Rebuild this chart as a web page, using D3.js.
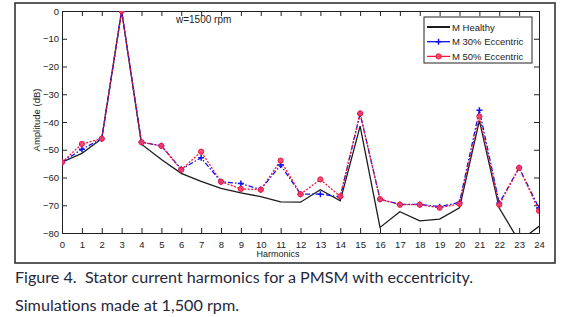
<!DOCTYPE html>
<html>
<head>
<meta charset="utf-8">
<script src="https://cdn.jsdelivr.net/npm/d3@7"></script>
<style>
  body { margin: 0; background: #fff; }
  svg { display: block; }
  .tick text { font-family: "Liberation Sans Narrow", "Liberation Sans", Arial, sans-serif; font-size: 9.5px; fill: #222; }
</style>
</head>
<body>
<div id="chart"></div>
<script>
// harmonic orders on the x axis
const harmonics = [0, 1, 2, 3, 4, 5, 6, 7, 8, 9, 10, 11, 12, 13, 14, 15, 16, 17, 18, 19, 20, 21, 22, 23, 24];

// amplitudes in dB
const healthy = [-54.5, -51.3, -46, 0, -48, -53.5, -58.5, -61.4, -63.9, -65.5, -66.9, -68.8, -68.9, -64.4, -68.4, -41.5, -78, -72.3, -75.6, -75, -70.9, -39.5, -71, -83, -77.6];
const ecc30 = [-54.5, -49.8, -46, 0, -47.3, -48.6, -57, -52.9, -61.5, -62.2, -64.3, -55.5, -66, -66, -67, -37, -67.8, -69.7, -69.7, -70.5, -69, -35.8, -69.3, -56.5, -71];
const ecc50 = [-54.5, -47.9, -46, 0, -47.3, -48.6, -57.2, -50.7, -61.5, -64.1, -64.4, -53.9, -66, -60.7, -66.8, -36.9, -67.8, -69.8, -69.8, -70.9, -69.5, -38, -69.8, -56.5, -72];

const yTicks = [0, -10, -20, -30, -40, -50, -60, -70, -80];
const seriesNames = ["M Healthy", "M 30% Eccentric", "M 50% Eccentric"];

const width = 565, height = 317;
const plotL = 62, plotR = 539, plotT = 11, plotB = 233;

const svg = d3.select("#chart").append("svg")
    .attr("width", width)
    .attr("height", height);

// figure frame
svg.append("rect")
    .attr("x", 15).attr("y", 3)
    .attr("width", 540).attr("height", 260)
    .attr("fill", "none")
    .attr("stroke", "#333")
    .attr("stroke-width", 1.6);

const x = d3.scaleLinear().domain([0, 24]).range([plotL, plotR]);
const y = d3.scaleLinear().domain([-80, 0]).range([plotB, plotT]);

svg.append("defs").append("clipPath").attr("id", "plot")
    .append("rect")
    .attr("x", plotL).attr("y", plotT)
    .attr("width", plotR - plotL).attr("height", plotB - plotT);

// axes with inward ticks
svg.append("g")
    .attr("transform", `translate(0,${plotB})`)
    .call(d3.axisBottom(x).tickValues(harmonics).tickFormat(d3.format("d"))
        .tickSizeInner(-5).tickSizeOuter(0).tickPadding(8));
svg.append("g")
    .attr("transform", `translate(0,${plotT})`)
    .call(d3.axisTop(x).tickValues(harmonics).tickFormat("")
        .tickSizeInner(-5).tickSizeOuter(0));
svg.append("g")
    .attr("transform", `translate(${plotL},0)`)
    .call(d3.axisLeft(y).tickValues(yTicks).tickFormat(d3.format("d"))
        .tickSizeInner(-5).tickSizeOuter(0).tickPadding(3));
svg.append("g")
    .attr("transform", `translate(${plotR},0)`)
    .call(d3.axisRight(y).tickValues(yTicks).tickFormat("")
        .tickSizeInner(-5).tickSizeOuter(0));

svg.selectAll(".domain").attr("stroke", "#222");
svg.selectAll(".tick line").attr("stroke", "#222");

// axis titles
svg.append("text")
    .attr("x", 278).attr("y", 257)
    .attr("text-anchor", "middle")
    .style("font-family", "'Liberation Sans Narrow', 'Liberation Sans', Arial, sans-serif")
    .style("font-size", "9px")
    .attr("fill", "#222")
    .text("Harmonics");

svg.append("text")
    .attr("transform", "translate(40,120) rotate(-90)")
    .attr("text-anchor", "middle")
    .style("font-family", "'Liberation Sans Narrow', 'Liberation Sans', Arial, sans-serif")
    .style("font-size", "9.5px")
    .attr("fill", "#222")
    .text("Amplitude (dB)");

svg.append("text")
    .attr("x", 176).attr("y", 23)
    .style("font-family", "'Liberation Sans Narrow', 'Liberation Sans', Arial, sans-serif")
    .style("font-size", "10px")
    .attr("fill", "#222")
    .text("w=1500 rpm");

// lines
const line = d3.line().x((d, i) => x(harmonics[i])).y(d => y(d));
const plot = svg.append("g").attr("clip-path", "url(#plot)");

const series = [
    { name: seriesNames[0], values: healthy, color: "#1c1c1c", dash: null, marker: null },
    { name: seriesNames[1], values: ecc30, color: "#1010f0", dash: "5,2,1.5,2", marker: "plus" },
    { name: seriesNames[2], values: ecc50, color: "#f0163c", dash: "2,1.5", marker: "circle" }
];

series.forEach(s => {
    plot.append("path")
        .datum(s.values)
        .attr("fill", "none")
        .attr("stroke", s.color)
        .attr("stroke-width", 1.3)
        .attr("stroke-dasharray", s.dash)
        .attr("d", line);
});

function drawMarker(g, kind, cx, cy, color) {
    if (kind === "plus") {
        g.append("path")
            .attr("d", `M${cx - 3},${cy}H${cx + 3}M${cx},${cy - 3}V${cy + 3}`)
            .attr("stroke", color).attr("stroke-width", 1.5);
    } else if (kind === "circle") {
        g.append("circle")
            .attr("cx", cx).attr("cy", cy).attr("r", 2.6)
            .attr("fill", "#f4406a").attr("fill-opacity", 0.9)
            .attr("stroke", color).attr("stroke-width", 1);
    }
}

series.filter(s => s.marker).forEach(s => {
    const g = plot.append("g");
    s.values.forEach((v, i) => drawMarker(g, s.marker, x(harmonics[i]), y(v), s.color));
});

// legend
const legend = svg.append("g");
legend.append("rect")
    .attr("x", 424).attr("y", 17)
    .attr("width", 108).attr("height", 46)
    .attr("fill", "#fff")
    .attr("stroke", "#222")
    .attr("stroke-width", 1);

series.forEach((s, i) => {
    const ly = 27 + i * 14.7;
    legend.append("line")
        .attr("x1", 427).attr("x2", 450)
        .attr("y1", ly).attr("y2", ly)
        .attr("stroke", s.color)
        .attr("stroke-width", i === 0 ? 2 : 1.3);
    drawMarker(legend, s.marker, 438.5, ly, s.color);
    legend.append("text")
        .attr("x", 452).attr("y", ly + 3.5)
        .style("font-family", "'Liberation Sans Narrow', 'Liberation Sans', Arial, sans-serif")
        .style("font-size", "9.5px")
        .attr("fill", "#222")
        .text(s.name);
});

// caption
const caption = [
    { text: "Figure 4.  Stator current harmonics for a PMSM with eccentricity.", y: 283, len: 458 },
    { text: "Simulations made at 1,500 rpm.", y: 311, len: 224 }
];
caption.forEach(c => {
    svg.append("text")
        .attr("x", 15).attr("y", c.y)
        .attr("textLength", c.len)
        .attr("lengthAdjust", "spacingAndGlyphs")
        .style("font-family", "Lato, 'Open Sans', sans-serif")
        .style("font-size", "15.5px")
        .style("font-variant-ligatures", "none")
        .style("white-space", "pre")
        .attr("fill", "#25283a")
        .text(c.text);
});
</script>
</body>
</html>
